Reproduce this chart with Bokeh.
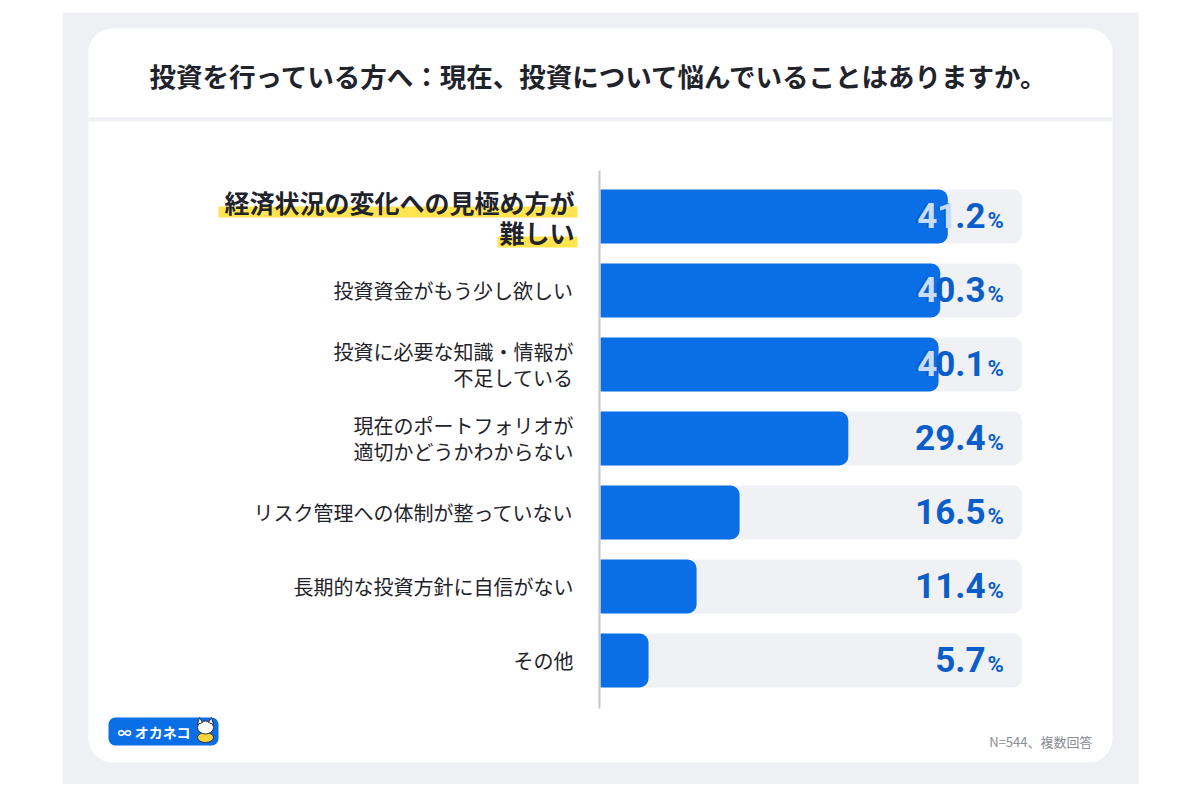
from bokeh.plotting import figure
from bokeh.models import Range1d, BoxAnnotation
from bokeh.core.properties import value
from bokeh.embed import file_html
from bokeh.resources import INLINE

# ---- data ----
categories = [
    "経済状況の変化への見極め方が\n難しい",
    "投資資金がもう少し欲しい",
    "投資に必要な知識・情報が\n不足している",
    "現在のポートフォリオが\n適切かどうかわからない",
    "リスク管理への体制が整っていない",
    "長期的な投資方針に自信がない",
    "その他",
]
values = [41.2, 40.3, 40.1, 29.4, 16.5, 11.4, 5.7]
axis_max = 50
title_text = "投資を行っている方へ：現在、投資について悩んでいることはありますか。"
note_text = "N=544、複数回答"

# ---- layout helpers (image pixel -> data units) ----
S = 8.43          # px per percent
X0 = 600          # image x of 0 %
Y0, DY = 216, 74  # image y of first row centre, row pitch
def xp(px): return (px - X0) / S
def yp(py): return (py - Y0) / DY
def dy(px): return px / DY

W, H = 1184, 784
p = figure(width=W, height=H, output_backend="svg", toolbar_location=None,
           x_range=Range1d(xp(0), xp(W)), y_range=Range1d(yp(H), yp(0)),
           min_border=0, min_border_left=0, min_border_right=0,
           min_border_top=0, min_border_bottom=0)
p.axis.visible = False
p.grid.visible = False
p.outline_line_color = None
p.background_fill_color = "white"
p.border_fill_color = "white"

FONT = value("Noto Sans CJK JP")
NUMFONT = value("Roboto")
TXT = "#1f232b"

# ---- background decorations ----
p.add_layout(BoxAnnotation(left=xp(62), right=xp(1138), top=yp(12), bottom=yp(790),
                           fill_color="#eef0f3", fill_alpha=1, line_color=None, level="underlay"))
p.add_layout(BoxAnnotation(left=xp(88), right=xp(1112), top=yp(28), bottom=yp(762),
                           fill_color="white", fill_alpha=1, line_color=None,
                           border_radius=24, level="underlay"))
p.add_layout(BoxAnnotation(left=xp(88), right=xp(1112), top=yp(117), bottom=yp(121),
                           fill_color="#eef0f3", fill_alpha=1, line_color=None, level="underlay"))

# title
p.text(x=[xp(149)], y=[yp(75)], text=[title_text], text_font=FONT, text_font_size="26.5px",
       text_font_style="bold", text_color=TXT, text_align="left", text_baseline="middle")

# ---- bars ----
idx = list(range(len(values)))
p.hbar(y=idx, left=0, right=[axis_max] * len(values), height=0.73,
       fill_color="#f0f1f4", line_color=None, border_radius=[0, 9, 9, 0])
p.hbar(y=idx, left=0, right=values, height=0.73,
       fill_color="#0a6fe6", line_color=None, border_radius=[0, 9, 9, 0])

# axis line
p.segment(x0=[xp(599)], x1=[xp(599)], y0=[yp(170)], y1=[yp(708)], line_color="#c4c6ca", line_width=2)

# ---- category labels ----
# highlight behind first label
p.add_layout(BoxAnnotation(left=xp(218), right=xp(577), top=yp(206), bottom=yp(217),
                           fill_color="#ffe34f", fill_alpha=1, line_color=None, level="underlay"))
p.add_layout(BoxAnnotation(left=xp(497), right=xp(577), top=yp(236), bottom=yp(247),
                           fill_color="#ffe34f", fill_alpha=1, line_color=None, level="underlay"))

for i, cat in enumerate(categories):
    lines = cat.split("\n")
    if i == 0:
        size, gap, style, xr = 25, 30, "bold", 574
    else:
        size, gap, style, xr = 20, 26, "normal", 573
    n = len(lines)
    ys = [i + dy((k - (n - 1) / 2) * gap) for k in range(n)]
    p.text(x=[xp(xr)] * n, y=ys, text=lines, text_font=FONT, text_font_size=f"{size}px",
           text_font_style=style, text_color=TXT, text_align="right", text_baseline="middle")

# ---- value labels ----
NUM_PX = 35
PCT_PX = 22
x_num_right = 985
digit_w, dot_w = 0.563 * NUM_PX, 0.26 * NUM_PX
num_texts = [f"{v}" for v in values]
num_y = [i - dy(1) for i in idx]
p.text(x=[xp(x_num_right)] * len(values), y=num_y, text=num_texts,
       text_font=NUMFONT, text_font_size=f"{NUM_PX}px", text_font_style="bold", text_color="#0b5ec9",
       text_align="right", text_baseline="middle")
p.text(x=[xp(x_num_right + 2)] * len(values), y=[i + dy(3.8) for i in idx], text=["%"] * len(values),
       text_font=NUMFONT, text_font_size=f"{PCT_PX}px", text_font_style="bold", text_color="#0b5ec9",
       text_align="left", text_baseline="middle")

# light-coloured part of the label where it lies on the blue bar
light_x, light_y, light_t = [], [], []
for i, (v, t) in enumerate(zip(values, num_texts)):
    bar_end = X0 + S * v
    right = x_num_right
    for ch in reversed(t):
        w = dot_w if ch == "." else digit_w
        left = right - w
        if (left + right) / 2 < bar_end:
            light_x.append(xp(left))
            light_y.append(num_y[i])
            light_t.append(ch)
        right = left
p.text(x=light_x, y=light_y, text=light_t, text_font=NUMFONT, text_font_size=f"{NUM_PX}px",
       text_font_style="bold", text_color="#c9ddf8", text_align="left", text_baseline="middle")

# ---- footnote ----
p.text(x=[xp(1092)], y=[yp(741)], text=[note_text], text_font=FONT, text_font_size="13px",
       text_color="#8a8d93", text_align="right", text_baseline="middle")

# ---- logo ----
p.add_layout(BoxAnnotation(left=xp(108), right=xp(218), top=yp(717), bottom=yp(745),
                           fill_color="#0a6fe6", fill_alpha=1, line_color=None,
                           border_radius=7, level="underlay"))
p.text(x=[xp(117)], y=[yp(731)], text=["∞ オカネコ"], text_font=FONT, text_font_size="14px",
       text_font_style="bold", text_color="white", text_align="left", text_baseline="middle")
p.ellipse(x=[xp(205)], y=[yp(737)], width=[16 / S], height=[10 / DY],
          fill_color="#ffd43b", line_color="#333333", line_width=1)
p.ellipse(x=[xp(205)], y=[yp(727)], width=[16 / S], height=[13 / DY],
          fill_color="white", line_color="#333333", line_width=1)
p.patches(xs=[[xp(197), xp(199), xp(202)], [xp(208), xp(211), xp(213)]],
          ys=[[yp(724), yp(717), yp(722)], [yp(722), yp(717), yp(724)]],
          fill_color="white", line_color="#333333", line_width=1)

open("out.html", "w").write(file_html(p, INLINE))
